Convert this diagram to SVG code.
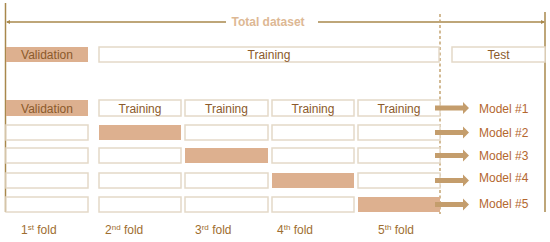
<svg xmlns="http://www.w3.org/2000/svg" width="550" height="242" viewBox="0 0 550 242">
<defs>
<style>
.fill{fill:#DDB08F;stroke:none}
.box{fill:#fff;stroke:#E4D9C8;stroke-width:1.5}
.t{font-family:"Liberation Sans",Arial,sans-serif;font-size:12px}
.lbl{fill:#8B5A2B}
.mod{fill:#B4672F}
.fold{fill:#9E6E30}
.axis{stroke:#A8884C;stroke-width:1.5;fill:none}
.arr{fill:#C49D6C}
</style>
<marker id="tip" markerWidth="4" markerHeight="4" refX="3" refY="2" orient="auto" markerUnits="userSpaceOnUse">
<path d="M0,0 L4,2 L0,4 Z" fill="#A8884C"/>
</marker>
</defs>
<rect width="550" height="242" fill="#fff"/>

<g id="connectors">
<line class="axis" x1="5.5" y1="3" x2="5.5" y2="212"/>
<line class="axis" x1="545" y1="12" x2="545" y2="212"/>
<line class="axis" x1="226" y1="22" x2="7" y2="22" marker-end="url(#tip)"/>
<line class="axis" x1="318" y1="22" x2="544" y2="22" marker-end="url(#tip)"/>
<line x1="440" y1="14" x2="440" y2="214" stroke="#C4A472" stroke-width="1.5" stroke-dasharray="3,2.5"/>
</g>

<g id="title">
<text class="t" x="268" y="26" text-anchor="middle" font-weight="bold" fill="#DDB894">Total dataset</text>
</g>

<g id="split">
<rect class="fill" x="6" y="47" width="82" height="15"/>
<text class="t lbl" x="47" y="59" text-anchor="middle">Validation</text>
<rect class="box" x="99" y="47" width="340" height="15"/>
<text class="t lbl" x="269" y="59" text-anchor="middle">Training</text>
<rect class="box" x="452" y="47" width="93" height="15"/>
<text class="t lbl" x="498.5" y="59" text-anchor="middle">Test</text>
</g>

<g id="row1">
<rect class="fill" x="6" y="100" width="82" height="16"/>
<text class="t lbl" x="47" y="112.5" text-anchor="middle">Validation</text>
<rect class="box" x="99" y="100" width="82" height="16"/>
<text class="t lbl" x="140" y="112.5" text-anchor="middle">Training</text>
<rect class="box" x="185" y="100" width="83" height="16"/>
<text class="t lbl" x="226.5" y="112.5" text-anchor="middle">Training</text>
<rect class="box" x="272" y="100" width="82" height="16"/>
<text class="t lbl" x="313" y="112.5" text-anchor="middle">Training</text>
<rect class="box" x="358" y="100" width="82" height="16"/>
<text class="t lbl" x="399" y="112.5" text-anchor="middle">Training</text>
</g>

<g id="row2">
<rect class="box" x="6" y="125" width="82" height="15"/>
<rect class="fill" x="99" y="125" width="82" height="15"/>
<rect class="box" x="185" y="125" width="83" height="15"/>
<rect class="box" x="272" y="125" width="82" height="15"/>
<rect class="box" x="358" y="125" width="82" height="15"/>
</g>

<g id="row3">
<rect class="box" x="6" y="148" width="82" height="15"/>
<rect class="box" x="99" y="148" width="82" height="15"/>
<rect class="fill" x="185" y="148" width="83" height="15"/>
<rect class="box" x="272" y="148" width="82" height="15"/>
<rect class="box" x="358" y="148" width="82" height="15"/>
</g>

<g id="row4">
<rect class="box" x="6" y="173" width="82" height="15"/>
<rect class="box" x="99" y="173" width="82" height="15"/>
<rect class="box" x="185" y="173" width="83" height="15"/>
<rect class="fill" x="272" y="173" width="82" height="15"/>
<rect class="box" x="358" y="173" width="82" height="15"/>
</g>

<g id="row5">
<rect class="box" x="6" y="197" width="82" height="15"/>
<rect class="box" x="99" y="197" width="82" height="15"/>
<rect class="box" x="185" y="197" width="83" height="15"/>
<rect class="box" x="272" y="197" width="82" height="15"/>
<rect class="fill" x="358" y="197" width="82" height="15"/>
</g>

<g id="arrows">
<path class="arr" d="M435,105.5 h28 v-3.5 l6,6 l-6,6 v-3.5 h-28 z"/>
<path class="arr" d="M435,130 h28 v-3.5 l6,6 l-6,6 v-3.5 h-28 z"/>
<path class="arr" d="M435,153 h28 v-3.5 l6,6 l-6,6 v-3.5 h-28 z"/>
<path class="arr" d="M435,178 h28 v-3.5 l6,6 l-6,6 v-3.5 h-28 z"/>
<path class="arr" d="M435,202 h28 v-3.5 l6,6 l-6,6 v-3.5 h-28 z" fill="#C49468"/>
</g>

<g id="models">
<text class="t mod" x="479" y="112.5">Model #1</text>
<text class="t mod" x="479" y="137">Model #2</text>
<text class="t mod" x="479" y="160">Model #3</text>
<text class="t mod" x="479" y="182">Model #4</text>
<text class="t mod" x="479" y="208">Model #5</text>
</g>

<g id="folds">
<text class="t fold" x="21" y="234">1<tspan font-size="8" dy="-4">st</tspan><tspan dy="4"> fold</tspan></text>
<text class="t fold" x="105" y="234">2<tspan font-size="8" dy="-4">nd</tspan><tspan dy="4">  fold</tspan></text>
<text class="t fold" x="195" y="234">3<tspan font-size="8" dy="-4">rd</tspan><tspan dy="4">  fold</tspan></text>
<text class="t fold" x="277" y="234">4<tspan font-size="8" dy="-4">th</tspan><tspan dy="4">  fold</tspan></text>
<text class="t fold" x="378" y="234">5<tspan font-size="8" dy="-4">th</tspan><tspan dy="4"> fold</tspan></text>
</g>
</svg>
